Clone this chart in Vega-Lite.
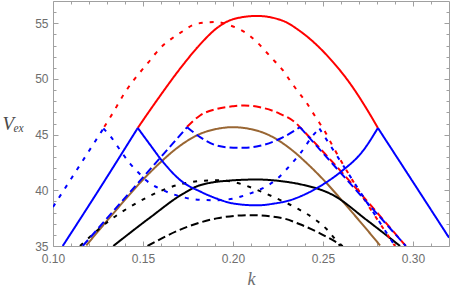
{
  "$schema": "https://vega.github.io/schema/vega-lite/v6.json",
  "width": 396,
  "height": 245,
  "autosize": "none",
  "padding": {"left": 53, "top": 1, "right": 2, "bottom": 45},
  "config": {"view": {"stroke": null}, "axis": {"grid": false, "labelFlush": false}},
  "resolve": {"axis": {"x": "independent", "y": "independent"}},
  "layer": [
    {
      "data": {"values": [
        {"c":"D","t":"1","s":"D1","k":0.1185,"v":35.05},{"c":"D","t":"1","s":"D1","k":0.1278,"v":36.85},{"c":"D","t":"1","s":"D1","k":0.1352,"v":38.25},{"c":"D","t":"1","s":"D1","k":0.1408,"v":39.3},{"c":"D","t":"1","s":"D1","k":0.1491,"v":40.8},{"c":"D","t":"1","s":"D1","k":0.1593,"v":42.45},{"c":"D","t":"1","s":"D1","k":0.1685,"v":43.75},{"c":"D","t":"1","s":"D1","k":0.1815,"v":45.05},{"c":"D","t":"1","s":"D1","k":0.1905,"v":45.5},{"c":"D","t":"1","s":"D1","k":0.2001,"v":45.67},{"c":"D","t":"1","s":"D1","k":0.2097,"v":45.5},{"c":"D","t":"1","s":"D1","k":0.2187,"v":45.05},{"c":"D","t":"1","s":"D1","k":0.2317,"v":43.75},{"c":"D","t":"1","s":"D1","k":0.2409,"v":42.45},{"c":"D","t":"1","s":"D1","k":0.2511,"v":40.8},{"c":"D","t":"1","s":"D1","k":0.2594,"v":39.3},{"c":"D","t":"1","s":"D1","k":0.265,"v":38.25},{"c":"D","t":"1","s":"D1","k":0.2724,"v":36.85},{"c":"D","t":"1","s":"D1","k":0.2817,"v":35.05},

        {"c":"C","t":"1","s":"C1","k":0.1335,"v":35.0},{"c":"C","t":"1","s":"C1","k":0.1539,"v":37.55},{"c":"C","t":"1","s":"C1","k":0.1724,"v":39.71},{"c":"C","t":"1","s":"C1","k":0.1817,"v":40.46},{"c":"C","t":"1","s":"C1","k":0.2002,"v":40.9},{"c":"C","t":"1","s":"C1","k":0.2132,"v":40.97},{"c":"C","t":"1","s":"C1","k":0.2279,"v":40.8},{"c":"C","t":"1","s":"C1","k":0.2372,"v":40.55},{"c":"C","t":"1","s":"C1","k":0.2557,"v":39.56},{"c":"C","t":"1","s":"C1","k":0.2743,"v":37.33},{"c":"C","t":"1","s":"C1","k":0.2928,"v":35.0},

        {"c":"C","t":"2","s":"C2","k":0.115,"v":35.0},{"c":"C","t":"2","s":"C2","k":0.1317,"v":37.33},{"c":"C","t":"2","s":"C2","k":0.1428,"v":38.52},{"c":"C","t":"2","s":"C2","k":0.1539,"v":39.5},{"c":"C","t":"2","s":"C2","k":0.1632,"v":40.16},{"c":"C","t":"2","s":"C2","k":0.1724,"v":40.61},{"c":"C","t":"2","s":"C2","k":0.1817,"v":40.84},{"c":"C","t":"2","s":"C2","k":0.1909,"v":40.9},{"c":"C","t":"2","s":"C2","k":0.2002,"v":40.75},{"c":"C","t":"2","s":"C2","k":0.2132,"v":40.05},{"c":"C","t":"2","s":"C2","k":0.2224,"v":39.41},{"c":"C","t":"2","s":"C2","k":0.2354,"v":38.4},{"c":"C","t":"2","s":"C2","k":0.2446,"v":37.5},{"c":"C","t":"2","s":"C2","k":0.2521,"v":36.5},{"c":"C","t":"2","s":"C2","k":0.2595,"v":35.0},

        {"c":"C","t":"3","s":"C3","k":0.1525,"v":35.0},{"c":"C","t":"3","s":"C3","k":0.1724,"v":36.58},{"c":"C","t":"3","s":"C3","k":0.1909,"v":37.48},{"c":"C","t":"3","s":"C3","k":0.2094,"v":37.77},{"c":"C","t":"3","s":"C3","k":0.2279,"v":37.48},{"c":"C","t":"3","s":"C3","k":0.2372,"v":36.95},{"c":"C","t":"3","s":"C3","k":0.2483,"v":36.14},{"c":"C","t":"3","s":"C3","k":0.261,"v":35.0},

        {"c":"A","t":"1","s":"A1","k":0.1471,"v":45.6},{"c":"A","t":"1","s":"A1","k":0.1539,"v":47.2},{"c":"A","t":"1","s":"A1","k":0.1576,"v":48.05},{"c":"A","t":"1","s":"A1","k":0.1724,"v":51.3},{"c":"A","t":"1","s":"A1","k":0.1817,"v":53.1},{"c":"A","t":"1","s":"A1","k":0.1909,"v":54.55},{"c":"A","t":"1","s":"A1","k":0.2002,"v":55.37},{"c":"A","t":"1","s":"A1","k":0.2132,"v":55.66},{"c":"A","t":"1","s":"A1","k":0.2279,"v":55.21},{"c":"A","t":"1","s":"A1","k":0.2372,"v":54.3},{"c":"A","t":"1","s":"A1","k":0.2557,"v":51.49},{"c":"A","t":"1","s":"A1","k":0.265,"v":49.6},{"c":"A","t":"1","s":"A1","k":0.2743,"v":47.3},{"c":"A","t":"1","s":"A1","k":0.2805,"v":45.6},

        {"c":"A","t":"2","s":"A2","k":0.1285,"v":45.7},{"c":"A","t":"2","s":"A2","k":0.1335,"v":47.01},{"c":"A","t":"2","s":"A2","k":0.14,"v":48.8},{"c":"A","t":"2","s":"A2","k":0.1446,"v":49.85},{"c":"A","t":"2","s":"A2","k":0.1483,"v":50.59},{"c":"A","t":"2","s":"A2","k":0.153,"v":51.49},{"c":"A","t":"2","s":"A2","k":0.1567,"v":52.24},{"c":"A","t":"2","s":"A2","k":0.1613,"v":53.04},{"c":"A","t":"2","s":"A2","k":0.1668,"v":53.72},{"c":"A","t":"2","s":"A2","k":0.1724,"v":54.32},{"c":"A","t":"2","s":"A2","k":0.1779,"v":54.86},{"c":"A","t":"2","s":"A2","k":0.1844,"v":55.06},{"c":"A","t":"2","s":"A2","k":0.1909,"v":55.12},{"c":"A","t":"2","s":"A2","k":0.1974,"v":54.86},{"c":"A","t":"2","s":"A2","k":0.2035,"v":54.47},{"c":"A","t":"2","s":"A2","k":0.2094,"v":53.87},{"c":"A","t":"2","s":"A2","k":0.2141,"v":53.18},{"c":"A","t":"2","s":"A2","k":0.2187,"v":52.38},{"c":"A","t":"2","s":"A2","k":0.2233,"v":51.57},{"c":"A","t":"2","s":"A2","k":0.2279,"v":50.74},{"c":"A","t":"2","s":"A2","k":0.2317,"v":49.85},{"c":"A","t":"2","s":"A2","k":0.2354,"v":49.02},{"c":"A","t":"2","s":"A2","k":0.2407,"v":47.9},{"c":"A","t":"2","s":"A2","k":0.2465,"v":46.42},{"c":"A","t":"2","s":"A2","k":0.2502,"v":45.53},{"c":"A","t":"2","s":"A2","k":0.2557,"v":43.88},{"c":"A","t":"2","s":"A2","k":0.29,"v":35.0},

        {"c":"A","t":"3","s":"A3","k":0.1745,"v":45.7},{"c":"A","t":"3","s":"A3","k":0.1817,"v":46.72},{"c":"A","t":"3","s":"A3","k":0.1909,"v":47.31},{"c":"A","t":"3","s":"A3","k":0.2002,"v":47.55},{"c":"A","t":"3","s":"A3","k":0.2063,"v":47.62},{"c":"A","t":"3","s":"A3","k":0.215,"v":47.46},{"c":"A","t":"3","s":"A3","k":0.2261,"v":46.87},{"c":"A","t":"3","s":"A3","k":0.2354,"v":45.97},{"c":"A","t":"3","s":"A3","k":0.2372,"v":45.67},{"c":"A","t":"3","s":"A3","k":0.296,"v":35.0},

        {"c":"B","t":"1","s":"B1a","k":0.1054,"v":35.0},{"c":"B","t":"1","s":"B1a","k":0.1261,"v":40.2},{"c":"B","t":"1","s":"B1a","k":0.1471,"v":45.6},
        {"c":"B","t":"1","s":"B1b","k":0.1471,"v":45.6},{"c":"B","t":"1","s":"B1b","k":0.1539,"v":44.1},{"c":"B","t":"1","s":"B1b","k":0.1604,"v":42.69},{"c":"B","t":"1","s":"B1b","k":0.1724,"v":40.7},{"c":"B","t":"1","s":"B1b","k":0.1817,"v":39.9},{"c":"B","t":"1","s":"B1b","k":0.1909,"v":39.26},{"c":"B","t":"1","s":"B1b","k":0.2002,"v":38.82},{"c":"B","t":"1","s":"B1b","k":0.2132,"v":38.65},{"c":"B","t":"1","s":"B1b","k":0.2224,"v":38.8},{"c":"B","t":"1","s":"B1b","k":0.2317,"v":39.11},{"c":"B","t":"1","s":"B1b","k":0.2409,"v":39.71},{"c":"B","t":"1","s":"B1b","k":0.2502,"v":40.55},{"c":"B","t":"1","s":"B1b","k":0.2594,"v":41.6},{"c":"B","t":"1","s":"B1b","k":0.2724,"v":43.59},{"c":"B","t":"1","s":"B1b","k":0.2805,"v":45.6},
        {"c":"B","t":"1","s":"B1c","k":0.2805,"v":45.6},{"c":"B","t":"1","s":"B1c","k":0.3094,"v":38.4},{"c":"B","t":"1","s":"B1c","k":0.32,"v":35.75},

        {"c":"B","t":"2","s":"B2a","k":0.1,"v":38.5},{"c":"B","t":"2","s":"B2a","k":0.128,"v":45.55},
        {"c":"B","t":"2","s":"B2b","k":0.128,"v":45.55},{"c":"B","t":"2","s":"B2b","k":0.1317,"v":44.9},{"c":"B","t":"2","s":"B2b","k":0.1382,"v":43.4},{"c":"B","t":"2","s":"B2b","k":0.1428,"v":42.4},{"c":"B","t":"2","s":"B2b","k":0.1474,"v":41.6},{"c":"B","t":"2","s":"B2b","k":0.1521,"v":40.85},{"c":"B","t":"2","s":"B2b","k":0.1613,"v":40.0},{"c":"B","t":"2","s":"B2b","k":0.1706,"v":39.45},{"c":"B","t":"2","s":"B2b","k":0.1817,"v":39.15},{"c":"B","t":"2","s":"B2b","k":0.1909,"v":39.11},{"c":"B","t":"2","s":"B2b","k":0.2002,"v":39.26},{"c":"B","t":"2","s":"B2b","k":0.2094,"v":39.71},{"c":"B","t":"2","s":"B2b","k":0.2147,"v":40.05},{"c":"B","t":"2","s":"B2b","k":0.2243,"v":41.0},{"c":"B","t":"2","s":"B2b","k":0.2317,"v":42.24},{"c":"B","t":"2","s":"B2b","k":0.2378,"v":43.4},{"c":"B","t":"2","s":"B2b","k":0.2443,"v":44.9},{"c":"B","t":"2","s":"B2b","k":0.248,"v":45.55},
        {"c":"B","t":"2","s":"B2c","k":0.248,"v":45.55},{"c":"B","t":"2","s":"B2c","k":0.29,"v":35.0},

        {"c":"B","t":"3","s":"B3a","k":0.1165,"v":35.0},{"c":"B","t":"3","s":"B3a","k":0.1745,"v":45.67},
        {"c":"B","t":"3","s":"B3b","k":0.1745,"v":45.67},{"c":"B","t":"3","s":"B3b","k":0.1817,"v":44.78},{"c":"B","t":"3","s":"B3b","k":0.1909,"v":44.03},{"c":"B","t":"3","s":"B3b","k":0.2002,"v":43.83},{"c":"B","t":"3","s":"B3b","k":0.2063,"v":43.82},{"c":"B","t":"3","s":"B3b","k":0.215,"v":44.0},{"c":"B","t":"3","s":"B3b","k":0.2261,"v":44.63},{"c":"B","t":"3","s":"B3b","k":0.2372,"v":45.67},
        {"c":"B","t":"3","s":"B3c","k":0.2372,"v":45.67},{"c":"B","t":"3","s":"B3c","k":0.296,"v":35.0}
      ]},
      "mark": {"type": "line", "interpolate": "monotone", "strokeWidth": 2, "clip": true},
      "encoding": {
        "x": {"field": "k", "type": "quantitative", "scale": {"domain": [0.1, 0.32], "nice": false, "zero": false},
          "axis": {"orient": "bottom", "values": [0.1, 0.15, 0.2, 0.25, 0.3], "format": ".2f", "ticks": false, "domain": true, "domainColor": "#a0a0a0", "domainWidth": 1,
            "labelFont": "Liberation Sans", "labelFontSize": 12, "labelColor": "#6e6e6e", "labelPadding": 7,
            "title": "k", "titleFont": "Liberation Serif", "titleFontStyle": "italic", "titleFontWeight": "normal", "titleFontSize": 18, "titleColor": "#6e6e6e", "titleY": 38, "titleBaseline": "alphabetic"}},
        "y": {"field": "v", "type": "quantitative", "scale": {"domain": [35, 57], "nice": false, "zero": false},
          "axis": {"orient": "left", "values": [35, 40, 45, 50, 55], "ticks": false, "domain": true, "domainColor": "#a0a0a0", "domainWidth": 1,
            "labelFont": "Liberation Sans", "labelFontSize": 12, "labelColor": "#6e6e6e", "labelPadding": 5,
            "title": "Vₑₓ", "titleAngle": 0, "titleAlign": "left", "titleBaseline": "alphabetic", "titleX": -51, "titleY": 128,
            "titleFont": "Liberation Serif", "titleFontStyle": "italic", "titleFontWeight": "normal", "titleFontSize": 19, "titleColor": "#4a4a4a"}},
        "color": {"field": "c", "type": "nominal", "scale": {"domain": ["D", "C", "A", "B"], "range": ["#996633", "#000000", "#ff0000", "#0000ff"]}, "legend": null},
        "strokeDash": {"field": "t", "type": "nominal", "scale": {"domain": ["1", "2", "3"], "range": [[1, 0], [4, 7], [8, 4]]}, "legend": null},
        "detail": {"field": "s", "type": "nominal"}
      }
    },
    {
      "data": {"values": [{"k": 0.1, "v": 35}, {"k": 0.32, "v": 57}]},
      "mark": {"type": "point", "opacity": 0},
      "encoding": {
        "x": {"field": "k", "type": "quantitative", "scale": {"domain": [0.1, 0.32], "nice": false, "zero": false},
          "axis": {"orient": "bottom", "values": [0.1, 0.15, 0.2, 0.25, 0.3], "labels": false, "domain": false, "ticks": true, "tickSize": -5, "tickColor": "#a0a0a0", "title": null}},
        "y": {"field": "v", "type": "quantitative", "scale": {"domain": [35, 57], "nice": false, "zero": false},
          "axis": {"orient": "left", "values": [35, 40, 45, 50, 55], "labels": false, "domain": false, "ticks": true, "tickSize": -5, "tickColor": "#a0a0a0", "title": null}}
      }
    },
    {
      "data": {"values": [{"k": 0.1, "v": 35}, {"k": 0.32, "v": 57}]},
      "mark": {"type": "point", "opacity": 0},
      "encoding": {
        "x": {"field": "k", "type": "quantitative", "scale": {"domain": [0.1, 0.32], "nice": false, "zero": false},
          "axis": {"orient": "bottom", "values": [0.11, 0.12, 0.13, 0.14, 0.16, 0.17, 0.18, 0.19, 0.21, 0.22, 0.23, 0.24, 0.26, 0.27, 0.28, 0.29, 0.31], "labels": false, "domain": false, "ticks": true, "tickSize": -3, "tickColor": "#a0a0a0", "title": null}},
        "y": {"field": "v", "type": "quantitative", "scale": {"domain": [35, 57], "nice": false, "zero": false},
          "axis": {"orient": "left", "values": [36, 37, 38, 39, 41, 42, 43, 44, 46, 47, 48, 49, 51, 52, 53, 54, 56], "labels": false, "domain": false, "ticks": true, "tickSize": -3, "tickColor": "#a0a0a0", "title": null}}
      }
    },
    {
      "data": {"values": [{"k": 0.1, "v": 35}, {"k": 0.32, "v": 57}]},
      "mark": {"type": "point", "opacity": 0},
      "encoding": {
        "x": {"field": "k", "type": "quantitative", "scale": {"domain": [0.1, 0.32], "nice": false, "zero": false},
          "axis": {"orient": "top", "values": [0.1, 0.15, 0.2, 0.25, 0.3], "labels": false, "domain": true, "domainColor": "#a0a0a0", "ticks": true, "tickSize": -5, "tickColor": "#a0a0a0", "title": null}},
        "y": {"field": "v", "type": "quantitative", "scale": {"domain": [35, 57], "nice": false, "zero": false},
          "axis": {"orient": "right", "values": [35, 40, 45, 50, 55], "labels": false, "domain": true, "domainColor": "#a0a0a0", "ticks": true, "tickSize": -5, "tickColor": "#a0a0a0", "title": null}}
      }
    },
    {
      "data": {"values": [{"k": 0.1, "v": 35}, {"k": 0.32, "v": 57}]},
      "mark": {"type": "point", "opacity": 0},
      "encoding": {
        "x": {"field": "k", "type": "quantitative", "scale": {"domain": [0.1, 0.32], "nice": false, "zero": false},
          "axis": {"orient": "top", "values": [0.11, 0.12, 0.13, 0.14, 0.16, 0.17, 0.18, 0.19, 0.21, 0.22, 0.23, 0.24, 0.26, 0.27, 0.28, 0.29, 0.31], "labels": false, "domain": false, "ticks": true, "tickSize": -3, "tickColor": "#a0a0a0", "title": null}},
        "y": {"field": "v", "type": "quantitative", "scale": {"domain": [35, 57], "nice": false, "zero": false},
          "axis": {"orient": "right", "values": [36, 37, 38, 39, 41, 42, 43, 44, 46, 47, 48, 49, 51, 52, 53, 54, 56], "labels": false, "domain": false, "ticks": true, "tickSize": -3, "tickColor": "#a0a0a0", "title": null}}
      }
    }
  ]
}
